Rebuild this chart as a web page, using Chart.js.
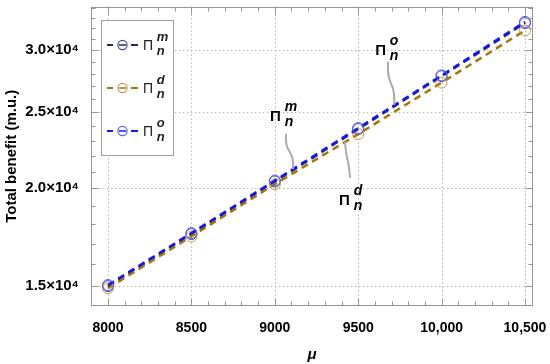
<!DOCTYPE html>
<html>
<head>
<meta charset="utf-8">
<script src="https://cdn.jsdelivr.net/npm/chart.js@4/dist/chart.umd.min.js"></script>
<style>
  html, body { margin: 0; padding: 0; background: #fff; }
</style>
</head>
<body>
<canvas id="chart" width="550" height="364"></canvas>
<script>
// data
const mu = [8000, 8500, 9000, 9500, 10000, 10500];
const benefitM = [15000, 17480, 20400, 23800, 27800, 32500];
const benefitD = [14910, 17360, 20240, 23450, 27280, 31800];
const benefitO = [15050, 17530, 20460, 23870, 27870, 32610];

const xTicks = [8000, 8500, 9000, 9500, 10000, 10500];
const yTicks = [15000, 20000, 25000, 30000];
const seriesKeys = ["m", "d", "o"];

const FONT = '"Liberation Sans", Arial, sans-serif';
const lineColors = ["rgb(36,38,112)", "rgb(163,117,14)", "rgb(24,24,236)"];
const dotColors = ["rgb(70,72,140)", "rgb(196,156,70)", "rgb(90,90,255)"];

// callouts (data coords): label centre, start of leader, point on curve
const notes = [
  { key: "m", lx: 9004, ly: 24740, sx: 9067, sy: 23470, ax: 9109, ay: 21160 },
  { key: "d", lx: 9418, ly: 19350, sx: 9451, sy: 20630, ax: 9421, ay: 22930 },
  { key: "o", lx: 9634, ly: 30100, sx: 9679, sy: 28970, ax: 9715, ay: 25550 },
];

function line(ctx, x1, y1, x2, y2) {
  ctx.beginPath();
  ctx.moveTo(x1, y1);
  ctx.lineTo(x2, y2);
  ctx.stroke();
}

function piLabel(ctx, x, y, key, bold, size) {
  // Π with subscript n and superscript key, centred on x,y
  ctx.textBaseline = "alphabetic";
  ctx.textAlign = "center";
  ctx.font = (bold ? "bold " : "") + size + "px " + FONT;
  ctx.fillText("Π", x, y + size * 0.36);
  ctx.textAlign = "left";
  ctx.font = "italic bold " + (size - 1) + "px " + FONT;
  ctx.fillText(key, x + size * 0.62, y - size * 0.3);
  ctx.fillText("n", x + size * 0.62, y + size * 0.7);
}

function noPad(s) {
  s.paddingLeft = 0;
  s.paddingRight = 0;
  s.paddingTop = 0;
  s.paddingBottom = 0;
}

const decor = {
  id: "decor",
  beforeDatasetsDraw(chart) {
    const { ctx, chartArea: a, scales: { x, y } } = chart;
    ctx.save();
    ctx.strokeStyle = "rgb(175,175,175)";
    ctx.lineWidth = 1;
    ctx.setLineDash([1.3, 2.7]);
    xTicks.forEach((v) => {
      const px = Math.round(x.getPixelForValue(v)) + 0.5;
      line(ctx, px, a.top, px, a.bottom);
    });
    yTicks.forEach((v) => {
      const py = Math.round(y.getPixelForValue(v)) + 0.5;
      line(ctx, a.left, py, a.right, py);
    });
    ctx.restore();
  },
  afterDatasetsDraw(chart) {
    const { ctx, chartArea: a, scales: { x, y } } = chart;
    ctx.save();

    // frame with inward ticks on all sides
    ctx.strokeStyle = "rgb(150,150,150)";
    ctx.lineWidth = 1;
    const L = Math.round(a.left) + 0.5, R = Math.round(a.right) - 0.5;
    const T = Math.round(a.top) + 0.5, B = Math.round(a.bottom) - 0.5;
    ctx.strokeRect(L, T, R - L, B - T);

    for (let v = 7900; v <= 10500; v += 100) {
      const len = xTicks.includes(v) ? 7 : 4;
      const px = Math.round(x.getPixelForValue(v)) + 0.5;
      line(ctx, px, B, px, B - len);
      line(ctx, px, T, px, T + len);
    }
    for (let v = 15000; v <= 34000; v += 1000) {
      const len = yTicks.includes(v) ? 7 : 4;
      const py = Math.round(y.getPixelForValue(v)) + 0.5;
      line(ctx, L, py, L + len, py);
      line(ctx, R, py, R - len, py);
    }

    // callouts
    notes.forEach((n) => {
      const sx = x.getPixelForValue(n.sx), sy = y.getPixelForValue(n.sy);
      const ax = x.getPixelForValue(n.ax), ay = y.getPixelForValue(n.ay);
      ctx.strokeStyle = "rgb(170,170,170)";
      ctx.lineWidth = 2;
      ctx.beginPath();
      ctx.moveTo(sx, sy);
      ctx.bezierCurveTo(sx - 1.5, sy + (ay - sy) * 0.6, ax + 1.5, ay - (ay - sy) * 0.6, ax, ay);
      ctx.stroke();
      ctx.fillStyle = "#000";
      piLabel(ctx, x.getPixelForValue(n.lx), y.getPixelForValue(n.ly), n.key, true, 15);
    });

    // legend
    const bx = 101.5, by = 20.5, bw = 72, bh = 135;
    ctx.fillStyle = "#fff";
    ctx.fillRect(bx, by, bw, bh);
    ctx.strokeStyle = "rgb(160,160,160)";
    ctx.lineWidth = 1;
    ctx.strokeRect(bx, by, bw, bh);
    seriesKeys.forEach((k, i) => {
      const cy = 45 + i * 43;
      ctx.strokeStyle = lineColors[i];
      ctx.lineWidth = 2;
      line(ctx, 107, cy, 113, cy);
      line(ctx, 131, cy, 138, cy);
      ctx.lineWidth = 1.5;
      line(ctx, 119, cy, 126, cy);
      ctx.strokeStyle = dotColors[i];
      ctx.lineWidth = 1.2;
      ctx.beginPath();
      ctx.arc(122.5, cy, 4.6, 0, Math.PI * 2);
      ctx.stroke();
      ctx.fillStyle = "#222";
      piLabel(ctx, 148, cy, k, false, 14);
    });
    ctx.restore();
  },
};

function makeSet(data, i) {
  return {
    data: data.map((v, j) => ({ x: mu[j], y: v })),
    borderColor: lineColors[i],
    borderWidth: 2.5,
    borderDash: [7, 5],
    fill: false,
    tension: 0,
    pointStyle: "circle",
    pointRadius: 5.5,
    pointBorderWidth: 1,
    pointBorderColor: dotColors[i],
    pointBackgroundColor: "rgba(0,0,0,0)",
    order: 3 - i,
  };
}

new Chart(document.getElementById("chart"), {
  type: "line",
  data: {
    datasets: [makeSet(benefitM, 0), makeSet(benefitD, 1), makeSet(benefitO, 2)],
  },
  options: {
    responsive: false,
    animation: false,
    devicePixelRatio: 1,
    layout: { padding: { top: 5, right: 17, left: 0, bottom: 0 } },
    plugins: { legend: { display: false }, tooltip: { enabled: false } },
    scales: {
      x: {
        type: "linear",
        min: 7898,
        max: 10548,
        afterBuildTicks: (s) => { s.ticks = xTicks.map((v) => ({ value: v })); },
        afterFit: (s) => { s.height = 58; noPad(s); },
        grid: { display: false },
        border: { display: false },
        ticks: {
          padding: 6,
          color: "#000",
          maxRotation: 0,
          autoSkip: false,
          font: { family: FONT, size: 14, weight: "bold" },
          callback: (v) => (v >= 10000 ? v.toLocaleString("en-US") : String(v)),
        },
        title: {
          display: true,
          text: "μ",
          color: "#000",
          font: { family: FONT, size: 15, weight: "bold", style: "italic" },
          padding: { top: 2, bottom: 0 },
        },
      },
      y: {
        type: "logarithmic",
        min: 14150,
        max: 34120,
        afterBuildTicks: (s) => { s.ticks = yTicks.map((v) => ({ value: v })); },
        afterFit: (s) => { s.width = 91; noPad(s); },
        grid: { display: false },
        border: { display: false },
        ticks: {
          padding: 4,
          color: "#000",
          autoSkip: false,
          font: { family: FONT, size: 15, weight: "bold" },
          callback: (v) => (v / 10000).toFixed(1) + "×10⁴",
        },
        title: {
          display: true,
          text: "Total benefit (m.u.)",
          color: "#000",
          font: { family: FONT, size: 15, weight: "bold" },
          padding: { top: 3, bottom: 0 },
        },
      },
    },
  },
  plugins: [decor],
});
</script>
</body>
</html>
